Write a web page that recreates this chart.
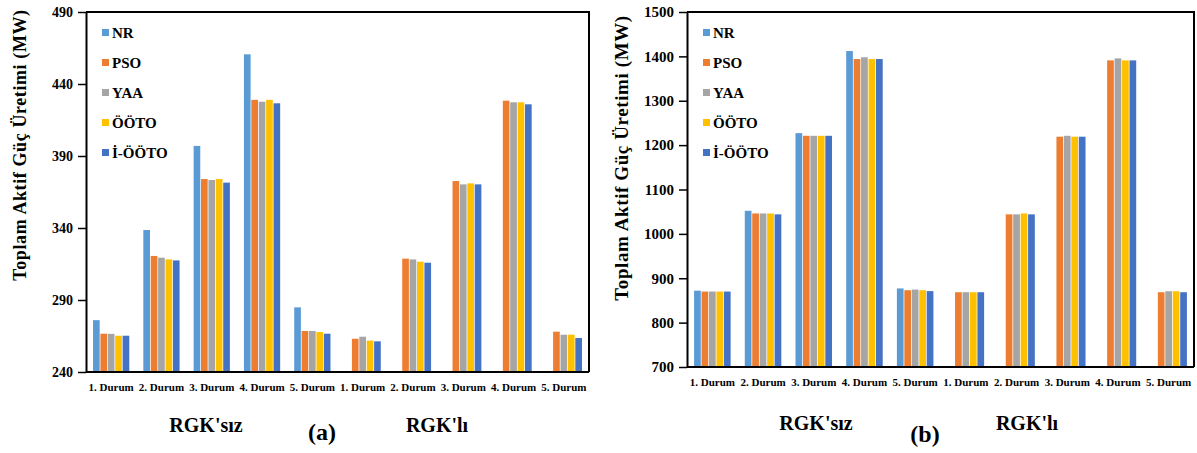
<!DOCTYPE html>
<html>
<head>
<meta charset="utf-8">
<script src="https://cdn.jsdelivr.net/npm/d3@7"></script>
<style>
  body { margin: 0; background: #fff; }
  text { font-family: "Liberation Serif", "Times New Roman", serif; font-weight: bold; }
</style>
</head>
<body>
<div id="chart"></div>
<script>
const categories = ["1. Durum", "2. Durum", "3. Durum", "4. Durum", "5. Durum",
  "1. Durum", "2. Durum", "3. Durum", "4. Durum", "5. Durum"];
const series = ["NR", "PSO", "YAA", "ÖÖTO", "İ-ÖÖTO"];
const colors = ["#5B9BD5", "#ED7D31", "#A5A5A5", "#FFC000", "#4472C4"];
const groupLabels = ["RGK'sız", "RGK'lı"];

// panel (a)
const ticksA = [240, 290, 340, 390, 440, 490];
const nrA = [276, 338.6, 397, 460.6, 284.9, null, null, null, null, null];
const psoA = [266.6, 320.6, 374, 429, 268.5, 263.1, 318.7, 372.6, 428.4, 268];
const yaaA = [266.5, 319.4, 373.3, 427.7, 268.5, 264.5, 318.2, 370.3, 427.3, 265.9];
const ootoA = [265.2, 318.2, 374, 429, 267.8, 261.8, 316.6, 371, 427.3, 265.9];
const iootoA = [265.2, 317.5, 371.5, 426.6, 266.6, 261.3, 315.9, 370.3, 425.9, 263.6];

// panel (b)
const ticksB = [700, 800, 900, 1000, 1100, 1200, 1300, 1400, 1500];
const nrB = [872, 1052, 1227, 1412, 877, null, null, null, null, null];
const psoB = [870, 1046, 1221, 1394, 873, 868.5, 1044, 1219, 1391, 868.5];
const yaaB = [870, 1046, 1221, 1398, 874.5, 868.5, 1044, 1221, 1395.5, 870.7];
const ootoB = [870, 1046, 1221, 1394, 873, 868.5, 1046, 1219, 1391, 870.7];
const iootoB = [870, 1044, 1221, 1394, 871, 868.5, 1044, 1219, 1391, 868.5];

const width = 1197;
const height = 453;

const svg = d3
  .select("#chart")
  .append("svg")
  .attr("width", width)
  .attr("height", height);

function drawPanel(p) {
  const g = svg.append("g");

  const x0 = d3
    .scaleBand()
    .domain(d3.range(categories.length))
    .range([p.left, p.right])
    .paddingInner(0.25)
    .paddingOuter(0.125);

  const x1 = d3
    .scaleBand()
    .domain(series)
    .range([0, x0.bandwidth()])
    .padding(0.1);

  const y = d3
    .scaleLinear()
    .domain([p.ticks[0], p.ticks[p.ticks.length - 1]])
    .range([p.bottom, p.top]);

  const rows = [];
  p.values.forEach((vals, s) => {
    vals.forEach((v, i) => {
      if (v != null) rows.push({ s: series[s], i: i, v: v, c: colors[s] });
    });
  });

  g.selectAll("rect.bar")
    .data(rows)
    .enter()
    .append("rect")
    .attr("class", "bar")
    .attr("x", (d) => x0(d.i) + x1(d.s))
    .attr("y", (d) => y(d.v))
    .attr("width", x1.bandwidth())
    .attr("height", (d) => p.bottom - y(d.v))
    .attr("fill", (d) => d.c);

  // frame top + right
  g.append("path")
    .attr("d", `M${p.left},${p.top}H${p.right}V${p.bottom}`)
    .attr("fill", "none")
    .attr("stroke", "#000")
    .attr("stroke-width", 2);

  const yAxis = d3
    .axisLeft(y)
    .tickValues(p.ticks)
    .tickFormat(d3.format("d"))
    .tickSize(8)
    .tickSizeOuter(0)
    .tickPadding(5);
  const ya = g
    .append("g")
    .attr("transform", `translate(${p.left},0)`)
    .call(yAxis);
  ya.select(".domain").attr("stroke-width", 2);
  ya.selectAll(".tick line").attr("stroke-width", 1.5);
  ya.selectAll("text")
    .attr("font-size", p.tickFont)
    .attr("fill", "#000");

  const xAxis = d3
    .axisBottom(x0)
    .tickSize(0)
    .tickPadding(p.xPad)
    .tickFormat((i) => categories[i]);
  const xa = g
    .append("g")
    .attr("transform", `translate(0,${p.bottom})`)
    .call(xAxis);
  xa.select(".domain")
    .attr("stroke-width", 2)
    .attr("d", `M${p.left},0H${p.right}`);
  xa.selectAll("text")
    .attr("font-size", 11)
    .attr("fill", "#000");

  g.append("text")
    .attr("transform", `translate(${p.titleX},${p.titleY}) rotate(-90)`)
    .attr("text-anchor", "middle")
    .attr("dominant-baseline", "central")
    .attr("font-size", p.titleFont)
    .attr("letter-spacing", 0.6)
    .text("Toplam Aktif Güç Üretimi (MW)");

  // legend
  series.forEach((s, k) => {
    const ly = p.legendY + k * 30;
    g.append("rect")
      .attr("x", p.legendX)
      .attr("y", ly - 4)
      .attr("width", 7)
      .attr("height", 7)
      .attr("fill", colors[k]);
    g.append("text")
      .attr("x", p.legendX + 10)
      .attr("y", ly + 5)
      .attr("font-size", 15)
      .text(s);
  });

  groupLabels.forEach((t, k) => {
    g.append("text")
      .attr("x", p.groupX[k])
      .attr("y", p.groupY)
      .attr("text-anchor", "middle")
      .attr("font-size", 20)
      .text(t);
  });

  g.append("text")
    .attr("x", p.letterX)
    .attr("y", p.letterY)
    .attr("text-anchor", "middle")
    .attr("font-size", 24)
    .text(p.letter);
}

drawPanel({
  left: 86, right: 589, top: 12, bottom: 372,
  ticks: ticksA,
  values: [nrA, psoA, yaaA, ootoA, iootoA],
  tickFont: 14, xPad: 11,
  titleX: 20, titleY: 145, titleFont: 18,
  legendX: 102, legendY: 33,
  groupX: [206, 437], groupY: 432,
  letter: "(a)", letterX: 322, letterY: 440
});

drawPanel({
  left: 687, right: 1194, top: 12, bottom: 367,
  ticks: ticksB,
  values: [nrB, psoB, yaaB, ootoB, iootoB],
  tickFont: 15, xPad: 11,
  titleX: 621, titleY: 158, titleFont: 19,
  legendX: 703, legendY: 33,
  groupX: [816, 1027], groupY: 430,
  letter: "(b)", letterX: 925, letterY: 442
});
</script>
</body>
</html>
